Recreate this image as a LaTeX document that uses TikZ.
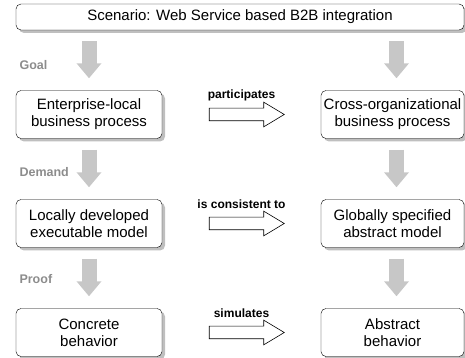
\documentclass[tikz,border=0pt]{standalone}
\usepackage{fontspec}
\setmainfont{Liberation Sans}
\usepackage{tikz}
\usetikzlibrary{shapes.arrows,arrows.meta,shadows,positioning,calc}

\tikzset{
  box/.style={draw, rounded corners=5pt, fill=white, align=center,
    minimum width=146pt, minimum height=48pt, inner sep=2pt,
    font=\fontsize{15}{17}\selectfont,
    drop shadow={shadow xshift=3pt, shadow yshift=-3pt, fill=black!25, opacity=1}},
  stage/.style={anchor=west, text=black!45, font=\fontsize{12.5}{14}\selectfont\bfseries},
  rel/.style={font=\fontsize{12}{14}\selectfont\bfseries},
  flow/.style={line width=15pt, black!22, shorten <=11pt, shorten >=12pt,
    -{Triangle[length=15pt,width=24pt]}},
  hollow/.style={single arrow, draw, fill=white, line width=0.6pt, inner sep=0pt,
    inner ysep=6pt, minimum height=75pt, single arrow head extend=6pt,
    single arrow tip angle=62}
}

\begin{document}
\begin{tikzpicture}[x=1pt, y=1pt]
		\useasboundingbox (0,0) rectangle (465,358);

		% Define nodes
		\node[box, minimum width=448pt, minimum height=26pt] (scen) at (240,341) {Scenario: Web Service based B2B integration};

		\node[box] (local) at (89,243.5) {Enterprise-local\\business process};
		\node[box] (exec) at (89,134.5) {Locally developed\\executable model};
		\node[box] (conc) at (89,25.5) {Concrete\\behavior};

		\node[box, minimum width=143pt] (cross) at (392.5,243.5) {Cross-organizational\\business process};
		\node[box, minimum width=143pt] (glob) at (392.5,134.5) {Globally specified\\abstract model};
		\node[box, minimum width=143pt] (abst) at (392.5,25.5) {Abstract\\behavior};

		\node[stage] (goal) at (16,293) {Goal};
		\node[stage] (demand) at (16,186) {Demand};
		\node[stage] (proof) at (16,79) {Proof};

		\node[hollow] (part) at ($(local.east)!0.5!(cross.west)$) {};
		\node[hollow] (cons) at ($(exec.east)!0.5!(glob.west)$) {};
		\node[hollow] (simu) at ($(conc.east)!0.5!(abst.west)$) {};

		\node[rel] (partl) at ([yshift=19pt]part.center) {participates};
		\node[rel] (consl) at ([yshift=19pt]cons.center) {is consistent to};
		\node[rel] (simul) at ([yshift=19pt]simu.center) {simulates};

		% Connect the nodes
		\draw[flow] (scen.south -| local.north) -- (local.north);
		\draw[flow] (local) -- (exec);
		\draw[flow] (exec) -- (conc);
		\draw[flow] ([xshift=4pt]scen.south -| cross.north) -- ([xshift=4pt]cross.north);
		\draw[flow] ([xshift=4pt]cross.south) -- ([xshift=4pt]glob.north);
		\draw[flow] ([xshift=4pt]glob.south) -- ([xshift=4pt]abst.north);
	\end{tikzpicture}
\end{document}
